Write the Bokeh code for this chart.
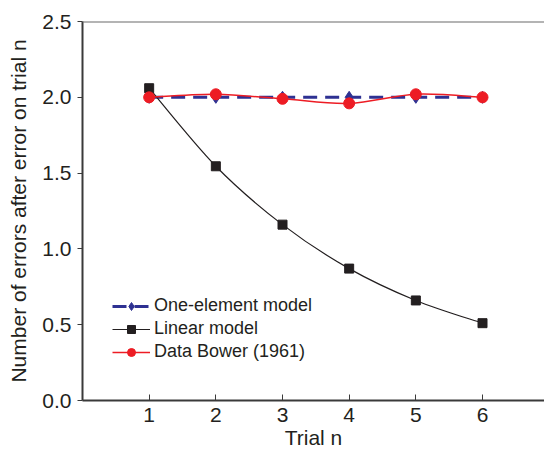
from bokeh.plotting import figure
from bokeh.models import Span, Legend, LegendItem, FixedTicker, PrintfTickFormatter, Range1d, ColumnDataSource
from bokeh.embed import file_html
from bokeh.resources import INLINE

# ---- data ----
trials = [1, 2, 3, 4, 5, 6]
one_element = [2.00, 2.00, 2.00, 2.00, 2.00, 2.00]
linear_model = [2.06, 1.545, 1.16, 0.87, 0.66, 0.51]
bower_data = [2.00, 2.02, 1.99, 1.96, 2.02, 2.00]
x_ticks = [1, 2, 3, 4, 5, 6]
y_ticks = [0.0, 0.5, 1.0, 1.5, 2.0, 2.5]
series_names = ["One-element model", "Linear model", "Data Bower (1961)"]

FONT = "Liberation Sans"
BLUE = "#2E3192"
RED = "#ED1C24"
BLACK = "#231F20"
NAN = float("nan")


def smooth_segments(xs, ys):
    """Catmull-Rom style control points so the library draws a smoothed line through the data."""
    n = len(xs)
    d = dict(x0=[], y0=[], x1=[], y1=[], cx0=[], cy0=[], cx1=[], cy1=[])
    for i in range(n - 1):
        xp, yp = (xs[i - 1], ys[i - 1]) if i > 0 else (xs[i], ys[i])
        xn, yn = (xs[i + 2], ys[i + 2]) if i + 2 < n else (xs[i + 1], ys[i + 1])
        d["x0"].append(xs[i]); d["y0"].append(ys[i])
        d["x1"].append(xs[i + 1]); d["y1"].append(ys[i + 1])
        d["cx0"].append(xs[i] + (xs[i + 1] - xp) / 6.0)
        d["cy0"].append(ys[i] + (ys[i + 1] - yp) / 6.0)
        d["cx1"].append(xs[i + 1] - (xn - xs[i]) / 6.0)
        d["cy1"].append(ys[i + 1] - (yn - ys[i]) / 6.0)
    return ColumnDataSource(d)


p = figure(width=544, height=451, output_backend="svg", toolbar_location=None,
           x_range=Range1d(0, 6.93), y_range=Range1d(0, 2.5),
           min_border_left=82, min_border_right=0, min_border_top=21, min_border_bottom=50)
p.background_fill_color = "white"
p.border_fill_color = "white"
p.outline_line_color = None
p.xgrid.visible = False
p.ygrid.visible = False

# axes
for ax in (p.xaxis[0], p.yaxis[0]):
    ax.axis_line_color = "#3a3a3a"
    ax.axis_line_width = 2
    ax.major_tick_line_color = "#3a3a3a"
    ax.major_tick_line_width = 1
    ax.minor_tick_line_color = None
    ax.major_label_text_font = FONT
    ax.major_label_text_font_size = "21px"
    ax.major_label_text_color = BLACK
    ax.axis_label_text_font = FONT
    ax.axis_label_text_font_size = "21px"
    ax.axis_label_text_font_style = "normal"
    ax.axis_label_text_color = BLACK

p.xaxis.ticker = FixedTicker(ticks=x_ticks)
p.xaxis.major_tick_in = 6
p.xaxis.major_tick_out = 0
p.xaxis.major_label_standoff = 7
p.xaxis.axis_label = "Trial n"
p.xaxis.axis_label_standoff = 1

p.yaxis.ticker = FixedTicker(ticks=y_ticks)
p.yaxis.formatter = PrintfTickFormatter(format="%.1f")
p.yaxis.major_tick_in = 0
p.yaxis.major_tick_out = 5
p.yaxis.major_label_standoff = 6
p.yaxis.axis_label = "Number of errors after error on trial n"
p.yaxis.axis_label_standoff = 9

# top frame line
p.add_layout(Span(location=2.5, dimension="width", line_color="#6a6a6a", line_width=2))

# one-element model
blue_line = p.line(trials, one_element, line_color=BLUE, line_width=3, line_dash="14 8")
blue_pts = p.scatter(trials, one_element, marker="diamond", size=12, fill_color=BLUE, line_color=BLUE)

# linear model
lin_src = smooth_segments(trials, linear_model)
p.bezier(x0="x0", y0="y0", x1="x1", y1="y1", cx0="cx0", cy0="cy0", cx1="cx1", cy1="cy1",
         source=lin_src, line_color=BLACK, line_width=1.2)
black_leg = p.line([NAN, NAN], [NAN, NAN], line_color=BLACK, line_width=1.2)
black_pts = p.scatter(trials, linear_model, marker="square", size=9, fill_color=BLACK, line_color=BLACK)

# Bower data
bow_src = smooth_segments(trials, bower_data)
p.bezier(x0="x0", y0="y0", x1="x1", y1="y1", cx0="cx0", cy0="cy0", cx1="cx1", cy1="cy1",
         source=bow_src, line_color=RED, line_width=1.5)
red_leg = p.line([NAN, NAN], [NAN, NAN], line_color=RED, line_width=1.5)
red_pts = p.scatter(trials, bower_data, marker="circle", size=11, fill_color=RED, line_color=RED)

legend = Legend(items=[
    LegendItem(label=series_names[0], renderers=[blue_line, blue_pts]),
    LegendItem(label=series_names[1], renderers=[black_leg, black_pts]),
    LegendItem(label=series_names[2], renderers=[red_leg, red_pts]),
], location=(30, 38))
legend.background_fill_alpha = 0
legend.border_line_color = None
legend.padding = 0
legend.margin = 0
legend.spacing = 2
legend.glyph_width = 38
legend.glyph_height = 20
legend.label_height = 20
legend.label_standoff = 4
legend.label_text_font = FONT
legend.label_text_font_size = "18px"
legend.label_text_color = BLACK
p.add_layout(legend)

open("out.html", "w").write(file_html(p, INLINE))
